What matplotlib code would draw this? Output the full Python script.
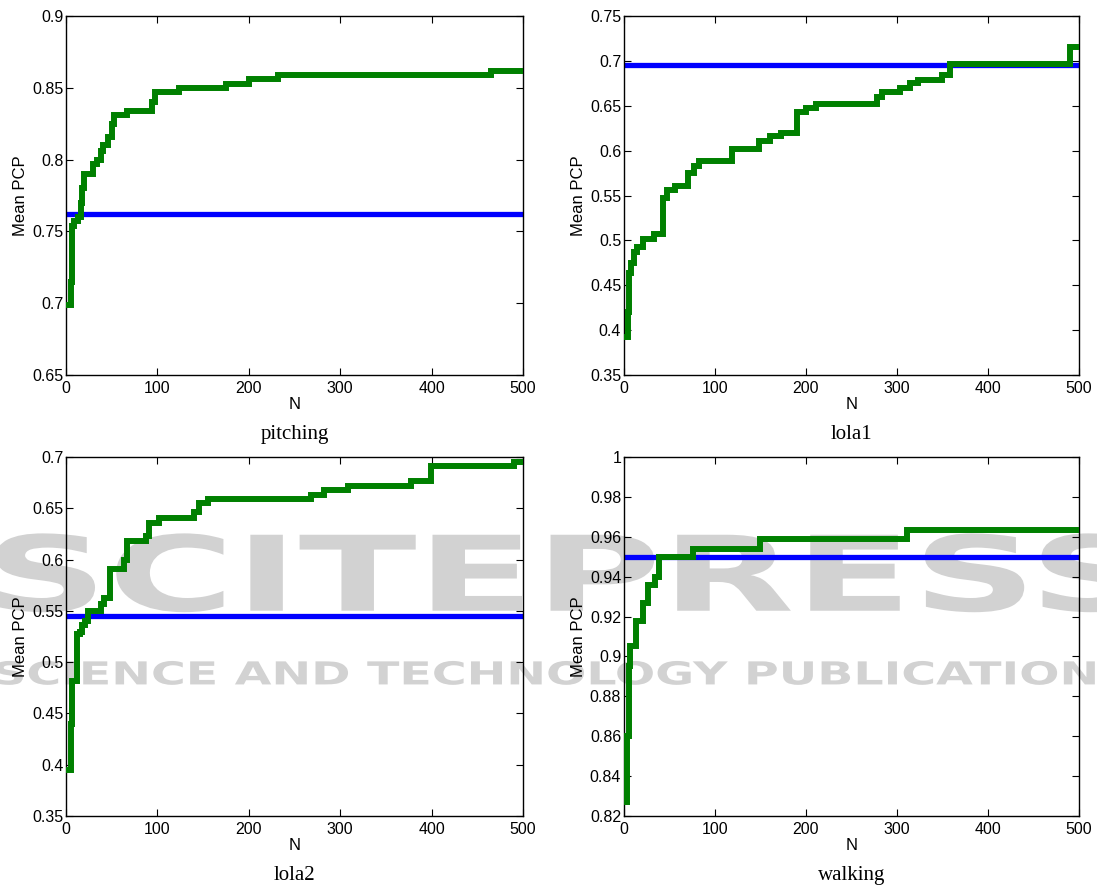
#!/usr/bin/env python3
"""Mean PCP vs N for four sequences (green: ours, blue: baseline)."""
import matplotlib
matplotlib.use("Agg")
import matplotlib.pyplot as plt
from matplotlib.ticker import FuncFormatter, MultipleLocator
from matplotlib.textpath import TextPath
from matplotlib.font_manager import FontProperties
from matplotlib.patches import PathPatch
from matplotlib.transforms import Affine2D

# step change points (N where a new value starts) and the values
pitching_n = [1, 5, 6, 7, 9, 13, 16, 18, 20, 30, 34, 38, 40, 46, 50, 53, 67, 94, 97,
              124, 175, 200, 232, 465, 500]
pitching_v = [0.699, 0.715, 0.735, 0.754, 0.757, 0.760, 0.770, 0.780, 0.790, 0.797,
              0.800, 0.806, 0.810, 0.816, 0.825, 0.831, 0.834, 0.840, 0.847, 0.850,
              0.853, 0.856, 0.859, 0.862, 0.862]
pitching_base = 0.762

lola1_n = [1, 4, 6, 8, 11, 14, 21, 33, 43, 47, 56, 70, 77, 82, 119, 148, 161, 173, 190,
           200, 211, 278, 284, 303, 314, 323, 349, 358, 490, 500]
lola1_v = [0.392, 0.420, 0.464, 0.475, 0.487, 0.493, 0.502, 0.507, 0.547, 0.556, 0.561,
           0.575, 0.583, 0.588, 0.602, 0.611, 0.616, 0.620, 0.643, 0.647, 0.652, 0.660,
           0.665, 0.670, 0.675, 0.679, 0.684, 0.697, 0.715, 0.715]
lola1_base = 0.695

lola2_n = [1, 5, 6, 12, 15, 18, 21, 24, 38, 41, 48, 63, 67, 88, 91, 102, 140, 145, 155,
           268, 282, 309, 377, 399, 490, 500]
lola2_v = [0.395, 0.440, 0.482, 0.527, 0.529, 0.536, 0.540, 0.550, 0.557, 0.563, 0.591,
           0.600, 0.618, 0.623, 0.636, 0.641, 0.646, 0.655, 0.659, 0.663, 0.668, 0.672,
           0.677, 0.691, 0.695, 0.695]
lola2_base = 0.545

walking_n = [1, 3, 5, 7, 13, 21, 26, 34, 38, 76, 150, 311, 500]
walking_v = [0.827, 0.860, 0.895, 0.905, 0.918, 0.927, 0.936, 0.940, 0.950, 0.954, 0.959,
             0.9635, 0.9635]
walking_base = 0.950

titles = ["pitching", "lola1", "lola2", "walking"]
ylims = [(0.65, 0.9), (0.35, 0.75), (0.35, 0.7), (0.82, 1.0)]
ysteps = [0.05, 0.05, 0.05, 0.02]

GREEN = "#008000"
BLUE = "#0000ff"
WM_GRAY = "#d2d2d2"

plt.rcParams["font.family"] = ["Liberation Sans", "DejaVu Sans"]

fig = plt.figure(figsize=(10.97, 8.86), dpi=100)


def watermark(text, x0, x1, y0, y1, spacing=0.0):
    """Stretch a bold text path into the box (figure fractions), behind the axes."""
    tp = TextPath((0, 0), text, size=100,
                  prop=FontProperties(family="DejaVu Sans", weight="bold"))
    ext = tp.get_extents()
    tr = (Affine2D()
          .translate(-ext.x0, -ext.y0)
          .scale((x1 - x0) / ext.width, (y1 - y0) / ext.height)
          .translate(x0, y0))
    patch = PathPatch(tp, facecolor=WM_GRAY, edgecolor="none", zorder=-2,
                      transform=tr + fig.transFigure)
    fig.add_artist(patch)


watermark("SCITEPRESS", -0.004, 1.04, 0.309, 0.398)
watermark("SCIENCE AND TECHNOLOGY PUBLICATIONS", -0.004, 1.03, 0.227, 0.254)

rects = [
    [0.0602, 0.5767, 0.4166, 0.4052],
    [0.5688, 0.5767, 0.4148, 0.4052],
    [0.0602, 0.0790, 0.4166, 0.4052],
    [0.5688, 0.0790, 0.4148, 0.4052],
]
series = [
    (pitching_n, pitching_v, pitching_base),
    (lola1_n, lola1_v, lola1_base),
    (lola2_n, lola2_v, lola2_base),
    (walking_n, walking_v, walking_base),
]

for rect, (ns, vs, base), title, ylim, ystep in zip(rects, series, titles, ylims, ysteps):
    ax = fig.add_axes(rect)
    ax.set_facecolor("none")
    ax.axhline(base, color=BLUE, lw=3.8, zorder=2)
    ax.plot(ns, vs, drawstyle="steps-post", color=GREEN, lw=4.3,
            solid_joinstyle="miter", zorder=3)
    ax.set_xlim(0, 500)
    ax.set_ylim(*ylim)
    ax.xaxis.set_major_locator(MultipleLocator(100))
    ax.yaxis.set_major_locator(MultipleLocator(ystep))
    ax.yaxis.set_major_formatter(FuncFormatter(lambda v, p: "%g" % round(v, 4)))
    ax.tick_params(direction="in", top=True, right=True, length=5, width=0.8,
                   labelsize=11.5)
    ax.tick_params(axis="x", pad=4)
    ax.tick_params(axis="y", pad=2)
    for sp in ax.spines.values():
        sp.set_linewidth(1.0)
    ax.set_xlabel("N", fontsize=12, labelpad=1)
    ax.set_ylabel("Mean PCP", fontsize=12, labelpad=3)
    ax.text(0.5, -0.165, title, transform=ax.transAxes, ha="center", va="center",
            fontsize=15, family=["Liberation Serif", "DejaVu Serif"])

fig.savefig("out.png", dpi=100)
